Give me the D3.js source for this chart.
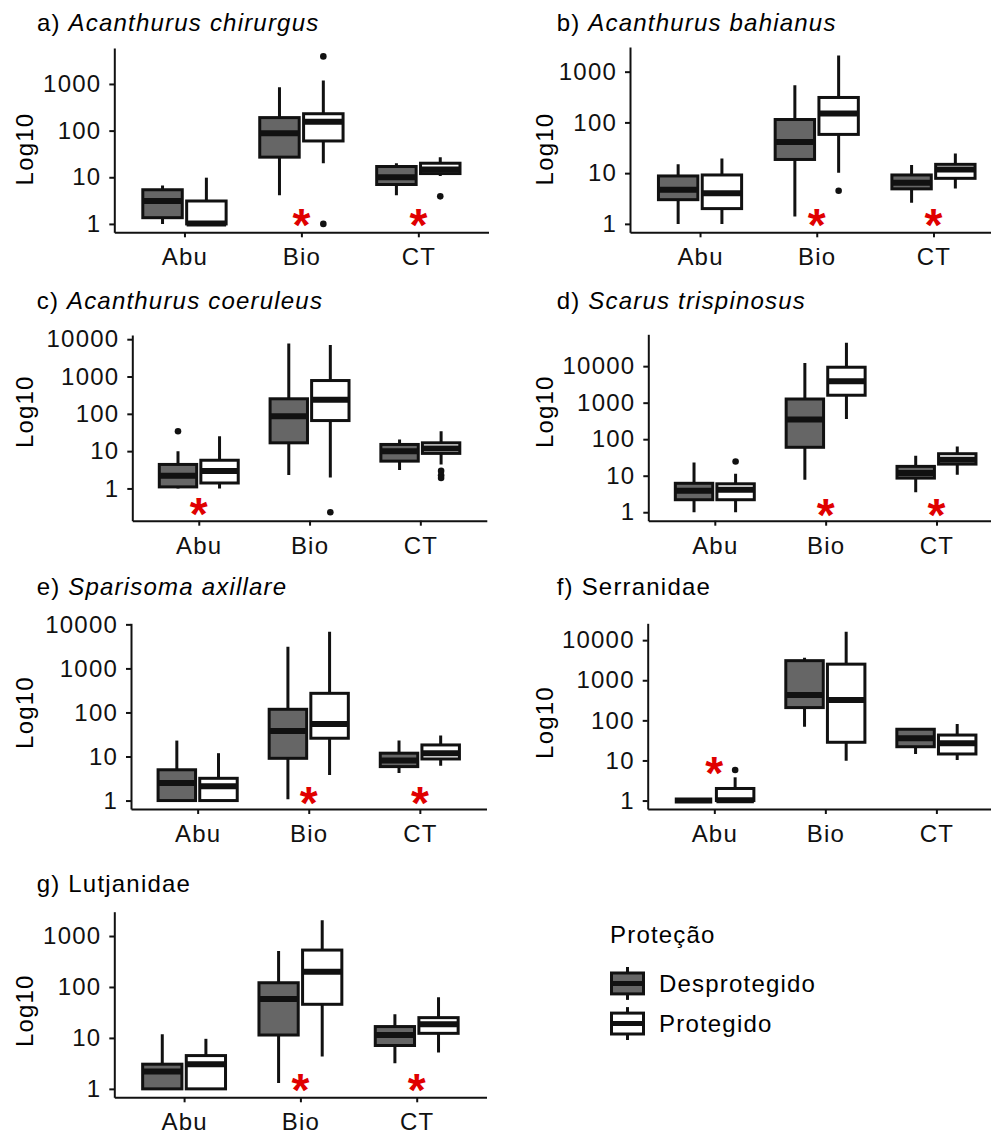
<!DOCTYPE html>
<html>
<head>
<meta charset="utf-8">
<script src="https://cdn.jsdelivr.net/npm/d3@7"></script>
<style>
  body { margin: 0; background: #fff; }
  svg text { font-family: "Liberation Sans", Arial, Helvetica, sans-serif; }
</style>
</head>
<body>
<div id="chart"></div>
<script>
const categories = ["Abu", "Bio", "CT"];
const groups = ["Desprotegido", "Protegido"];
const groupFill = ["#666666", "#ffffff"];
const yTickValues = [1, 10, 100, 1000, 10000];

const panelLetters = ["a)", "b)", "c)", "d)", "e)", "f)", "g)"];
const panelNames = ["Acanthurus chirurgus", "Acanthurus bahianus", "Acanthurus coeruleus",
  "Scarus trispinosus", "Sparisoma axillare", "Serranidae", "Lutjanidae"];
const panelItalic = [true, true, true, true, true, false, false];

// [categoria, proteção, bigode inferior, q1, mediana, q3, bigode superior]
const boxesA = [
  ["Abu", "Desprotegido", 1, 1.36, 3.1, 5.4, 6.7],
  ["Abu", "Protegido", 1, 1, 1.02, 3.1, 9.8],
  ["Bio", "Desprotegido", 4.1, 27, 88, 190, 850],
  ["Bio", "Protegido", 20, 60, 155, 230, 1180],
  ["CT", "Desprotegido", 4.1, 7, 10, 17, 20],
  ["CT", "Protegido", 10.6, 12, 14.7, 20, 27]
];
const boxesB = [
  ["Abu", "Desprotegido", 1, 3.0, 4.7, 8.8, 14.9],
  ["Abu", "Protegido", 1, 2.0, 4.0, 9.2, 19.5],
  ["Bio", "Desprotegido", 1.4, 18.6, 41, 114, 540],
  ["Bio", "Protegido", 10.2, 58, 150, 310, 2090],
  ["CT", "Desprotegido", 2.6, 4.9, 6.5, 9.2, 14.4],
  ["CT", "Protegido", 5.0, 7.9, 11.8, 14.9, 24.5]
];
const boxesC = [
  ["Abu", "Desprotegido", 1, 1.1, 2.2, 4.4, 10],
  ["Abu", "Protegido", 1, 1.4, 2.95, 5.7, 25],
  ["Bio", "Desprotegido", 2.3, 16.7, 86, 253, 7700],
  ["Bio", "Protegido", 1.96, 66, 237, 780, 6950],
  ["CT", "Desprotegido", 3.1, 5.4, 10, 15.1, 20.6],
  ["CT", "Protegido", 4.4, 8.7, 11.8, 16.7, 34]
];
const boxesD = [
  ["Abu", "Desprotegido", 1, 2.2, 3.85, 6.2, 23],
  ["Abu", "Protegido", 1, 2.2, 4.1, 6.0, 11.3],
  ["Bio", "Desprotegido", 7.7, 60, 345, 1260, 12300],
  ["Bio", "Protegido", 357, 1600, 3870, 9350, 43700],
  ["CT", "Desprotegido", 3.5, 8.6, 11.8, 18, 35],
  ["CT", "Protegido", 10.6, 20.8, 27.4, 40, 63]
];
const boxesE = [
  ["Abu", "Desprotegido", 1, 1, 2.5, 5.0, 23],
  ["Abu", "Protegido", 1, 1, 2.1, 3.2, 11.9],
  ["Bio", "Desprotegido", 1.07, 9.1, 38, 118, 3110],
  ["Bio", "Protegido", 3.8, 26, 55, 272, 6800],
  ["CT", "Desprotegido", 4.2, 5.9, 8.1, 11.9, 23],
  ["CT", "Protegido", 6.2, 8.8, 11.9, 18.3, 30]
];
const boxesF = [
  ["Abu", "Desprotegido", 1, 1, 1, 1, 1],
  ["Abu", "Protegido", 1, 1, 1.02, 2.0, 3.8],
  ["Bio", "Desprotegido", 69, 208, 427, 3080, 3630],
  ["Bio", "Protegido", 9.9, 28.4, 320, 2520, 16200],
  ["CT", "Desprotegido", 14.5, 22, 35.6, 60, 61],
  ["CT", "Protegido", 10.3, 14.5, 26.8, 43, 81]
];
const boxesG = [
  ["Abu", "Desprotegido", 1, 1, 2.2, 3.05, 11.8],
  ["Abu", "Protegido", 1, 1, 3.05, 4.5, 9.6],
  ["Bio", "Desprotegido", 1.3, 11.4, 58, 121, 510],
  ["Bio", "Protegido", 4.3, 45.7, 200, 530, 2050],
  ["CT", "Desprotegido", 3.2, 7.1, 11.4, 16.7, 29],
  ["CT", "Protegido", 5.2, 12.3, 18.6, 25, 63]
];

// [categoria, proteção, valor]
const outliersA = [["Bio", "Protegido", 3900], ["Bio", "Protegido", 1], ["CT", "Protegido", 3.9]];
const outliersB = [["Bio", "Protegido", 4.5]];
const outliersC = [["Abu", "Desprotegido", 34], ["Bio", "Protegido", 0.23],
  ["CT", "Protegido", 2.95], ["CT", "Protegido", 2.26], ["CT", "Protegido", 1.9]];
const outliersD = [["Abu", "Protegido", 24.6]];
const outliersE = [];
const outliersF = [["Abu", "Protegido", 5.8]];
const outliersG = [];

// asteriscos de significância: [categoria, valor]
const starsA = [["Bio", 1.45], ["CT", 1.45]];
const starsB = [["Bio", 1.39], ["CT", 1.39]];
const starsC = [["Abu", 0.35]];
const starsD = [["Bio", 1.43], ["CT", 1.43]];
const starsE = [["Bio", 1.35], ["CT", 1.35]];
const starsF = [["Abu", 7.7]];
const starsG = [["Bio", 1.39], ["CT", 1.39]];

// posição de cada painel na página
const layout = [
  { boxes: boxesA, outliers: outliersA, stars: starsA, x0: 114.3, x1: 488.5, y0: 48, y1: 232.3, tx: 37, ty: 31, lx: 33, ly: 149 },
  { boxes: boxesB, outliers: outliersB, stars: starsB, x0: 630, x1: 1003.5, y0: 47, y1: 232.3, tx: 556.7, ty: 31, lx: 553.4, ly: 149 },
  { boxes: boxesC, outliers: outliersC, stars: starsC, x0: 132.3, x1: 486.8, y0: 335, y1: 520.7, tx: 36.7, ty: 309.3, lx: 33.4, ly: 411.7 },
  { boxes: boxesD, outliers: outliersD, stars: starsD, x0: 648.3, x1: 1003, y0: 334.3, y1: 520.7, tx: 556.7, ty: 309.3, lx: 553.4, ly: 411.7 },
  { boxes: boxesE, outliers: outliersE, stars: starsE, x0: 131, x1: 486.5, y0: 623.3, y1: 809, tx: 36.7, ty: 595, lx: 33.4, ly: 712.5 },
  { boxes: boxesF, outliers: outliersF, stars: starsF, x0: 647.7, x1: 1003, y0: 623.3, y1: 809, tx: 556.7, ty: 595, lx: 553.4, ly: 722.5 },
  { boxes: boxesG, outliers: outliersG, stars: starsG, x0: 114.3, x1: 486.5, y0: 911.7, y1: 1097.3, tx: 36.7, ty: 891.7, lx: 33.4, ly: 1010.7 }
];

const W = 991, H = 1135;
const FS = 24, LS = "1.2px";
const ink = "#111";

const svg = d3.select("#chart").append("svg")
  .attr("width", W)
  .attr("height", H)
  .style("display", "block");

layout.forEach((p, i) => {
  const g = svg.append("g");

  // dominio log com expansão de 5% como no ggplot
  const vals = [];
  p.boxes.forEach(b => { vals.push(b[2], b[6]); });
  p.outliers.forEach(o => vals.push(o[2]));
  const lmin = Math.log10(d3.min(vals)), lmax = Math.log10(d3.max(vals));
  const pad = (lmax - lmin) * 0.05;
  const y = d3.scaleLog()
    .domain([Math.pow(10, lmin - pad), Math.pow(10, lmax + pad)])
    .range([p.y1, p.y0]);

  const x = d3.scalePoint()
    .domain(categories)
    .range([p.x0, p.x1])
    .padding(0.6);
  const step = x.step();
  const boxW = step * 0.3375;
  const dodge = d3.scaleBand().domain(groups).range([-step * 0.375, step * 0.375]);
  const bx = (cat, grp) => x(cat) + dodge(grp) + dodge.bandwidth() / 2;

  // eixo y
  const ticks = yTickValues.filter(t => t >= y.domain()[0] && t <= y.domain()[1]);
  const yAxis = g.append("g")
    .attr("transform", `translate(${p.x0},0)`)
    .call(d3.axisLeft(y).tickValues(ticks).tickFormat(d3.format("d"))
      .tickSize(5).tickSizeOuter(0).tickPadding(8));
  // eixo x
  const xAxis = g.append("g")
    .attr("transform", `translate(0,${p.y1})`)
    .call(d3.axisBottom(x).tickSize(5).tickSizeOuter(0).tickPadding(11));

  [yAxis, xAxis].forEach(ax => {
    ax.select(".domain").attr("stroke", ink).attr("stroke-width", 2);
    ax.selectAll(".tick line").attr("stroke", ink).attr("stroke-width", 2);
    ax.selectAll(".tick text")
      .attr("fill", ink)
      .style("font-size", FS + "px")
      .style("letter-spacing", LS);
  });

  // bigodes
  g.selectAll(".whisk")
    .data(p.boxes)
    .join("path")
    .attr("d", d => {
      const cx = bx(d[0], d[1]);
      return `M${cx},${y(d[6])}V${y(d[5])}M${cx},${y(d[3])}V${y(d[2])}`;
    })
    .attr("stroke", ink)
    .attr("stroke-width", 3)
    .attr("fill", "none");

  // caixas
  g.selectAll(".box")
    .data(p.boxes)
    .join("rect")
    .attr("x", d => bx(d[0], d[1]) - boxW / 2)
    .attr("y", d => y(d[5]))
    .attr("width", boxW)
    .attr("height", d => y(d[3]) - y(d[5]))
    .attr("fill", d => groupFill[groups.indexOf(d[1])])
    .attr("stroke", ink)
    .attr("stroke-width", 3);

  // medianas
  g.selectAll(".med")
    .data(p.boxes)
    .join("line")
    .attr("x1", d => bx(d[0], d[1]) - boxW / 2)
    .attr("x2", d => bx(d[0], d[1]) + boxW / 2)
    .attr("y1", d => y(d[4]))
    .attr("y2", d => y(d[4]))
    .attr("stroke", ink)
    .attr("stroke-width", 6);

  // outliers
  g.selectAll(".out")
    .data(p.outliers)
    .join("circle")
    .attr("cx", d => bx(d[0], d[1]))
    .attr("cy", d => y(d[2]))
    .attr("r", 3.3)
    .attr("fill", ink);

  // asteriscos
  const sfs = 46;
  g.selectAll(".star")
    .data(p.stars)
    .join("text")
    .attr("x", d => x(d[0]))
    .attr("y", d => y(d[1]) + sfs * 0.53)
    .attr("text-anchor", "middle")
    .attr("fill", "#e00000")
    .style("font-size", sfs + "px")
    .style("font-weight", "bold")
    .text("*");

  // título
  const t = g.append("text")
    .attr("x", p.tx)
    .attr("y", p.ty)
    .attr("fill", "#000")
    .style("font-size", FS + "px")
    .style("letter-spacing", LS);
  t.append("tspan").text(panelLetters[i] + " ");
  t.append("tspan")
    .style("font-style", panelItalic[i] ? "italic" : "normal")
    .text(panelNames[i]);

  // rótulo do eixo y
  g.append("text")
    .attr("transform", `translate(${p.lx},${p.ly}) rotate(-90)`)
    .attr("text-anchor", "middle")
    .attr("fill", "#000")
    .style("font-size", FS + "px")
    .style("letter-spacing", LS)
    .text("Log10");
});

// legenda
const legend = svg.append("g");
legend.append("text")
  .attr("x", 610)
  .attr("y", 942.5)
  .attr("fill", "#000")
  .style("font-size", FS + "px")
  .style("letter-spacing", LS)
  .text("Proteção");

const keyY = d3.scaleBand().domain(groups).range([965, 1042]).paddingInner(0.08);
const key = legend.selectAll(".key")
  .data(groups)
  .join("g")
  .attr("transform", d => `translate(611.5,${keyY(d)})`);
const kh = keyY.bandwidth();
key.append("line")
  .attr("x1", 16).attr("x2", 16)
  .attr("y1", 2).attr("y2", kh - 2)
  .attr("stroke", ink).attr("stroke-width", 3);
key.append("rect")
  .attr("x", 0).attr("y", 8)
  .attr("width", 32).attr("height", kh - 16)
  .attr("fill", (d, i) => groupFill[i])
  .attr("stroke", ink).attr("stroke-width", 3);
key.append("line")
  .attr("x1", 0).attr("x2", 32)
  .attr("y1", kh / 2).attr("y2", kh / 2)
  .attr("stroke", ink).attr("stroke-width", 5);
key.append("text")
  .attr("x", 47.5)
  .attr("y", kh / 2 + 8.5)
  .attr("fill", "#000")
  .style("font-size", FS + "px")
  .style("letter-spacing", LS)
  .text(d => d);
</script>
</body>
</html>
